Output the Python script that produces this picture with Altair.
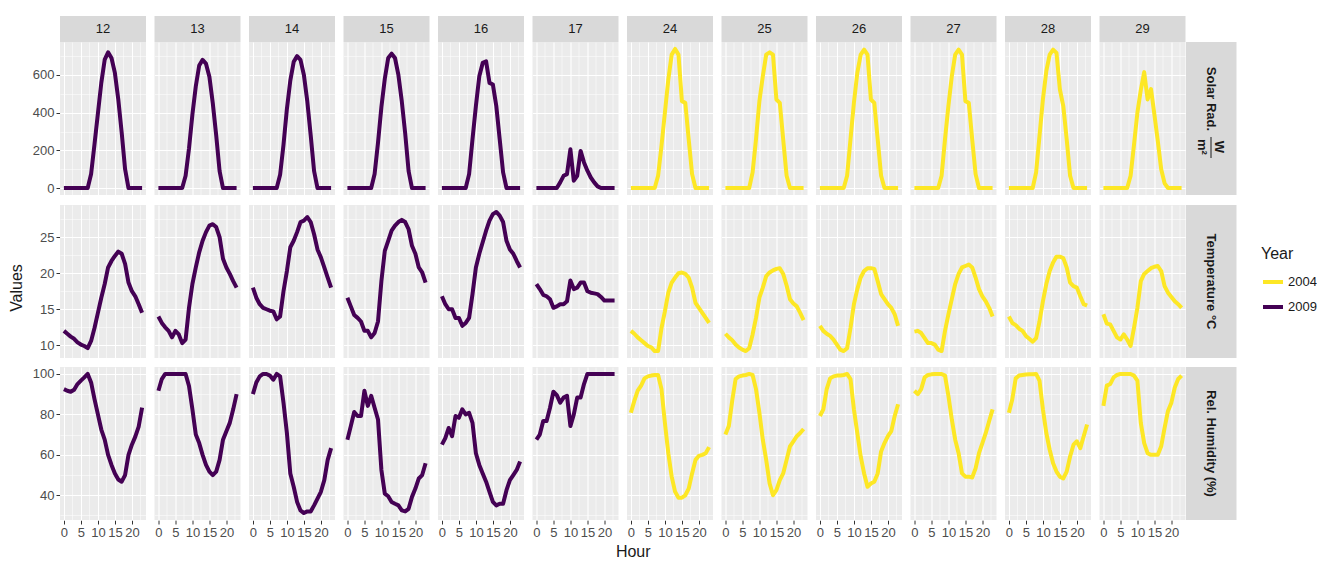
import altair as alt
import pandas as pd

# ---------------- data ----------------
HOURS = list(range(24))
DAYS = [12, 13, 14, 15, 16, 17, 24, 25, 26, 27, 28, 29]
YEAR_OF_DAY = {12: "2009", 13: "2009", 14: "2009", 15: "2009", 16: "2009", 17: "2009",
               24: "2004", 25: "2004", 26: "2004", 27: "2004", 28: "2004", 29: "2004"}

SOLAR = {
    12: [0, 0, 0, 0, 0, 0, 0, 0, 75, 232, 396, 558, 681, 720, 690, 611, 470, 294, 100, 0, 0, 0, 0, 0],
    13: [0, 0, 0, 0, 0, 0, 0, 0, 65, 210, 390, 540, 650, 680, 660, 590, 450, 280, 90, 0, 0, 0, 0, 0],
    14: [0, 0, 0, 0, 0, 0, 0, 0, 70, 230, 420, 570, 670, 700, 680, 600, 460, 280, 90, 0, 0, 0, 0, 0],
    15: [0, 0, 0, 0, 0, 0, 0, 0, 75, 240, 430, 580, 690, 713, 690, 600, 460, 290, 90, 0, 0, 0, 0, 0],
    16: [0, 0, 0, 0, 0, 0, 0, 0, 74, 259, 435, 593, 664, 672, 558, 549, 435, 259, 83, 0, 0, 0, 0, 0],
    17: [0, 0, 0, 0, 0, 0, 0, 30, 65, 74, 206, 39, 65, 197, 136, 92, 56, 30, 9, 0, 0, 0, 0, 0],
    24: [0, 0, 0, 0, 0, 0, 0, 0, 65, 224, 400, 576, 708, 738, 708, 461, 452, 259, 74, 0, 0, 0, 0, 0],
    25: [0, 0, 0, 0, 0, 0, 0, 0, 83, 259, 461, 593, 708, 720, 708, 470, 452, 259, 65, 0, 0, 0, 0, 0],
    26: [0, 0, 0, 0, 0, 0, 0, 0, 65, 259, 452, 611, 708, 734, 708, 470, 452, 259, 65, 0, 0, 0, 0, 0],
    27: [0, 0, 0, 0, 0, 0, 0, 0, 65, 259, 435, 593, 708, 734, 708, 461, 452, 259, 74, 0, 0, 0, 0, 0],
    28: [0, 0, 0, 0, 0, 0, 0, 0, 83, 276, 470, 620, 708, 734, 717, 523, 435, 259, 65, 0, 0, 0, 0, 0],
    29: [0, 0, 0, 0, 0, 0, 0, 0, 65, 230, 400, 520, 615, 470, 525, 390, 250, 100, 25, 0, 0, 0, 0, 0],
}

TEMP = {
    12: [12.0, 11.6, 11.2, 10.9, 10.4, 10.1, 9.9, 9.6, 10.6, 12.4, 14.5, 16.6, 18.5, 20.8, 21.7, 22.4, 23.0, 22.7, 21.3, 18.7, 17.5, 16.8, 15.7, 14.5],
    13: [14.0, 13.1, 12.5, 12.0, 11.1, 12.0, 11.5, 10.3, 10.8, 15.2, 18.5, 20.8, 22.9, 24.5, 25.7, 26.6, 26.8, 26.4, 25.0, 22.0, 20.8, 19.9, 18.9, 18.0],
    14: [18.0, 16.6, 15.7, 15.2, 15.0, 14.8, 14.7, 13.6, 14.0, 17.5, 20.3, 23.6, 24.5, 25.7, 27.1, 27.3, 27.8, 27.1, 25.4, 23.3, 22.2, 20.8, 19.4, 18.0],
    15: [16.6, 15.4, 14.2, 13.8, 13.3, 12.0, 12.0, 11.1, 11.7, 13.3, 18.9, 23.1, 24.5, 25.9, 26.6, 27.1, 27.4, 27.1, 26.1, 23.8, 22.7, 20.8, 20.1, 18.7],
    16: [16.8, 15.7, 15.0, 15.0, 13.8, 13.8, 12.7, 13.1, 13.8, 17.1, 20.8, 22.7, 24.3, 25.9, 27.3, 28.2, 28.5, 28.0, 27.1, 24.5, 23.3, 22.7, 21.7, 20.8],
    17: [18.5, 17.8, 17.0, 16.8, 16.4, 15.2, 15.4, 15.7, 15.7, 16.1, 19.0, 17.8, 18.0, 18.7, 18.7, 17.5, 17.3, 17.2, 17.1, 16.7, 16.2, 16.2, 16.2, 16.2],
    24: [12.0, 11.6, 11.1, 10.7, 10.3, 9.9, 9.7, 9.2, 9.2, 12.4, 14.7, 17.3, 18.7, 19.4, 20.0, 20.1, 19.9, 19.4, 18.0, 15.9, 15.2, 14.5, 13.8, 13.1],
    25: [11.6, 11.1, 10.7, 10.1, 9.7, 9.4, 9.2, 9.6, 11.5, 13.8, 16.6, 18.0, 19.6, 20.1, 20.4, 20.6, 20.7, 19.9, 18.3, 16.4, 15.8, 15.4, 14.5, 13.5],
    26: [12.7, 12.0, 11.6, 11.3, 10.8, 10.1, 9.4, 9.2, 9.6, 12.4, 15.7, 17.8, 19.4, 20.3, 20.7, 20.7, 20.6, 18.9, 17.1, 16.4, 15.7, 15.2, 14.3, 12.7],
    27: [11.9, 12.0, 11.7, 11.0, 10.3, 10.3, 10.1, 9.4, 9.2, 12.0, 14.3, 16.4, 18.5, 19.9, 20.8, 21.0, 21.2, 20.8, 19.4, 17.8, 16.8, 16.1, 15.2, 14.0],
    28: [14.0, 13.1, 12.8, 12.3, 12.0, 11.3, 10.9, 10.5, 11.0, 13.3, 16.1, 18.5, 20.3, 21.5, 22.3, 22.3, 22.1, 20.8, 18.7, 18.2, 18.0, 16.8, 15.7, 15.5],
    29: [14.3, 13.0, 12.9, 12.0, 11.1, 10.8, 11.5, 10.8, 9.9, 12.4, 15.2, 18.9, 19.9, 20.3, 20.7, 20.9, 21.0, 20.3, 18.2, 17.3, 16.7, 16.1, 15.7, 15.2],
}

HUMID = {
    12: [92.5, 91.7, 91.2, 92.2, 95, 96.7, 98.3, 100, 95.8, 87.5, 80, 72.5, 67.5, 60, 55, 50.8, 47.8, 46.7, 50, 60, 65, 69, 74, 83.3],
    13: [91.7, 97.5, 100, 100, 100, 100, 100, 100, 100, 94, 82.5, 70, 65.8, 60, 55, 51.7, 50, 51.7, 57.5, 67.5, 71.7, 75.8, 82.5, 90],
    14: [90, 95.8, 98.8, 100, 100, 99.2, 97.2, 100, 98.8, 85.8, 70.8, 50.8, 44.2, 36.7, 32.5, 31.2, 32, 32, 35, 38.3, 41.7, 47.5, 57.5, 63.3],
    15: [67.5, 74.2, 81.2, 79.2, 79.2, 91.7, 84.2, 89.2, 83.3, 77.5, 52.5, 40.8, 39.5, 36.7, 35.8, 35, 32.5, 32, 33.3, 39.2, 43.3, 48.3, 50, 55.8],
    16: [65, 68.3, 73.3, 69.2, 79.2, 78.3, 82.5, 80, 80.8, 75.8, 60.8, 55, 50.8, 46.7, 41.7, 36.7, 35, 35.8, 35.8, 42.5, 47.5, 50, 52.5, 56.7],
    17: [67.5, 70, 76.7, 76.7, 83.3, 91.2, 89.5, 85.8, 88.3, 89.2, 74.2, 80, 88.3, 88.3, 95, 100, 100, 100, 100, 100, 100, 100, 100, 100],
    24: [80.8, 86.7, 91.7, 94.2, 97.8, 98.8, 99.2, 99.5, 99.5, 92.5, 75.8, 60.8, 49.2, 41.7, 38.8, 38.8, 40, 43.3, 50.8, 57.5, 59.5, 60, 60.8, 63.8],
    25: [70, 74.2, 86.7, 97.5, 98.8, 99.2, 99.5, 100, 99.5, 92.5, 80.8, 67.5, 57.5, 45.8, 40, 42.5, 47.5, 50.8, 57.5, 64.2, 66.7, 69.2, 70.8, 72.8],
    26: [79.2, 82.5, 92.5, 97.8, 98.8, 99.2, 99.2, 99.5, 100, 97.5, 82.5, 70.8, 59.2, 50.8, 44.2, 45.8, 46.7, 50.8, 61.7, 65.8, 69.2, 71.7, 79.2, 85],
    27: [91.7, 90, 92.5, 98.3, 99.5, 99.8, 100, 100, 100, 99.2, 89.2, 77.5, 67.5, 60.8, 50.8, 49.2, 49.2, 48.8, 53.3, 60.8, 65.8, 70.8, 76.7, 82.5],
    28: [80.8, 87.5, 97.8, 99.2, 99.5, 99.7, 99.8, 99.8, 100, 96.7, 82.5, 70.8, 62.5, 55.8, 51.7, 49.2, 48.3, 51.7, 59.2, 65, 66.7, 63.3, 69.2, 75],
    29: [84.2, 94.2, 95, 98.3, 99.5, 100, 100, 100, 100, 99.2, 96.7, 75.8, 65.8, 60.8, 60, 60, 60, 64.2, 73.3, 81.7, 85.8, 93.3, 97.5, 99.2],
}

YEARS = ["2004", "2009"]
YEAR_COLORS = ["#FDE725", "#440154"]

X_GRID = [0, 2.5, 5, 7.5, 10, 12.5, 15, 17.5, 20, 22.5]
SOLAR_GRID = [0, 100, 200, 300, 400, 500, 600, 700]
TEMP_GRID = [10, 12.5, 15, 17.5, 20, 22.5, 25, 27.5]
HUMID_GRID = [30, 40, 50, 60, 70, 80, 90, 100]

# ---------------- layout constants ----------------
W, H = 86, 153
STRIP_W = 51
TOP_STRIP = 26
FONT = "Liberation Sans"


def to_frame(values_by_day):
    recs = []
    for d in DAYS:
        for h, v in zip(HOURS, values_by_day[d]):
            recs.append({"day": d, "hour": h, "value": v, "Year": YEAR_OF_DAY[d]})
    return pd.DataFrame(recs)


def padded(lo, hi):
    p = (hi - lo) * 0.05
    return [lo - p, hi + p]


X_DOMAIN = padded(min(HOURS), max(HOURS))


def cond(test, a, b):
    return {"condition": {"test": test, "value": a}, "value": b}


def make_row(values_by_day, grid_vals, major_step, strip_layers, top=False, bottom=False, title=None):
    df = to_frame(values_by_day)
    ydom = padded(df["value"].min(), df["value"].max())
    xtest = "datum.value % 5 === 0"
    ytest = f"datum.value % {major_step} === 0"
    xaxis = alt.Axis(
        values=X_GRID, title=None, domain=False, grid=True, gridColor="white",
        gridWidth=cond(xtest, 1.1, 0.5),
        labels=bottom, ticks=bottom,
        tickOpacity=cond(xtest, 1, 0), tickSize=4, tickColor="#333333", tickWidth=1,
        labelExpr=f"{xtest} ? datum.label : ''", labelFlush=False, labelOverlap=False,
        labelColor="#4D4D4D", labelFontSize=13, labelPadding=2, labelFont=FONT,
    )
    yaxis = alt.Axis(
        values=grid_vals, title=None, domain=False, grid=True, gridColor="white",
        gridWidth=cond(ytest, 1.1, 0.5),
        tickOpacity=cond(ytest, 1, 0), tickSize=4, tickColor="#333333", tickWidth=1,
        labelExpr=f"{ytest} ? datum.label : ''", labelFlush=False, labelOverlap=False,
        labelColor="#4D4D4D", labelFontSize=13, labelPadding=2, labelFont=FONT,
        minExtent=30, maxExtent=30,
    )
    line = alt.Chart().mark_line(strokeWidth=4, strokeJoin="round").encode(
        x=alt.X("hour:Q", scale=alt.Scale(domain=X_DOMAIN, nice=False, zero=False), axis=xaxis),
        y=alt.Y("value:Q", scale=alt.Scale(domain=ydom, nice=False, zero=False), axis=yaxis),
        color=alt.Color(
            "Year:N",
            scale=alt.Scale(domain=YEARS, range=YEAR_COLORS),
            legend=alt.Legend(
                title="Year", orient="none", legendX=1201, legendY=204,
                symbolType="stroke", symbolStrokeWidth=4, symbolSize=400,
                titleFontSize=16, titleFontWeight="normal", titleColor="#1A1A1A",
                labelFontSize=13, labelColor="#1A1A1A", titleFont=FONT, labelFont=FONT,
                rowPadding=5, titlePadding=8, labelOffset=3,
            ),
        ),
        detail="day:N",
    )
    layers = []
    if top:
        one_per_day = alt.Chart().transform_aggregate(n="count()", groupby=["day"])
        layers.append(one_per_day.mark_rect(color="#D9D9D9").encode(
            x=alt.value(0), x2=alt.value(W), y=alt.value(-TOP_STRIP), y2=alt.value(0)))
        layers.append(one_per_day.mark_text(fontSize=13, color="#1A1A1A", font=FONT, baseline="middle").encode(
            x=alt.value(W / 2), y=alt.value(-TOP_STRIP / 2), text="day:N"))
    last = alt.Chart().transform_filter(f"datum.day == {DAYS[-1]}").transform_aggregate(
        n="count()", groupby=["day"])
    layers.append(last.mark_rect(color="#D9D9D9").encode(
        x=alt.value(W + 0.5), x2=alt.value(W + STRIP_W), y=alt.value(0), y2=alt.value(H)))
    for spec in strip_layers:
        kind = spec["kind"]
        if kind == "text":
            layers.append(last.mark_text(
                angle=90, fontSize=13, fontWeight="bold", color="#1A1A1A", font=FONT,
                align="center", baseline="middle").encode(
                x=alt.value(W + STRIP_W / 2 + spec.get("dx", 0)), y=alt.value(spec["y"]),
                text=alt.value(spec["text"])))
        else:
            layers.append(last.mark_rule(color="#1A1A1A", strokeWidth=1).encode(
                x=alt.value(W + STRIP_W / 2 + spec.get("dx", 0)), y=alt.value(spec["y"]),
                y2=alt.value(spec["y2"])))
    chart = alt.layer(line, *layers).properties(width=W, height=H)
    fc = chart.facet(
        column=alt.Column("day:O", header=None), data=df, spacing=8.5, bounds="flush",
        **({"title": title} if title is not None else {}),
    )
    return fc


row1 = make_row(SOLAR, SOLAR_GRID, 200, [
    {"kind": "text", "text": "Solar Rad.", "y": 57},
    {"kind": "text", "text": "W", "y": 105, "dx": 8},
    {"kind": "rule", "y": 95, "y2": 116, "dx": 0},
    {"kind": "text", "text": "m²", "y": 105, "dx": -9},
], top=True)
row2 = make_row(TEMP, TEMP_GRID, 5, [
    {"kind": "text", "text": "Temperature °C", "y": H / 2},
])
row3 = make_row(HUMID, HUMID_GRID, 20, [
    {"kind": "text", "text": "Rel. Humidity (%)", "y": H / 2},
], bottom=True, title=alt.TitleParams("Hour", orient="bottom", anchor="middle", fontSize=16,
                                       fontWeight="normal", color="#1A1A1A", font=FONT, offset=5))

chart = alt.vconcat(
    row1, row2, row3, spacing=9,
    title=alt.TitleParams("Values", orient="left", anchor="middle", fontSize=16,
                          fontWeight="normal", color="#1A1A1A", font=FONT, offset=5),
).resolve_scale(color="shared").properties(
    padding={"left": 1, "top": 8, "right": 0, "bottom": 0}
).configure(font=FONT).configure_view(fill="#EBEBEB", stroke=None)

chart.save("out.html", embed_options={"renderer": "svg", "actions": False})
